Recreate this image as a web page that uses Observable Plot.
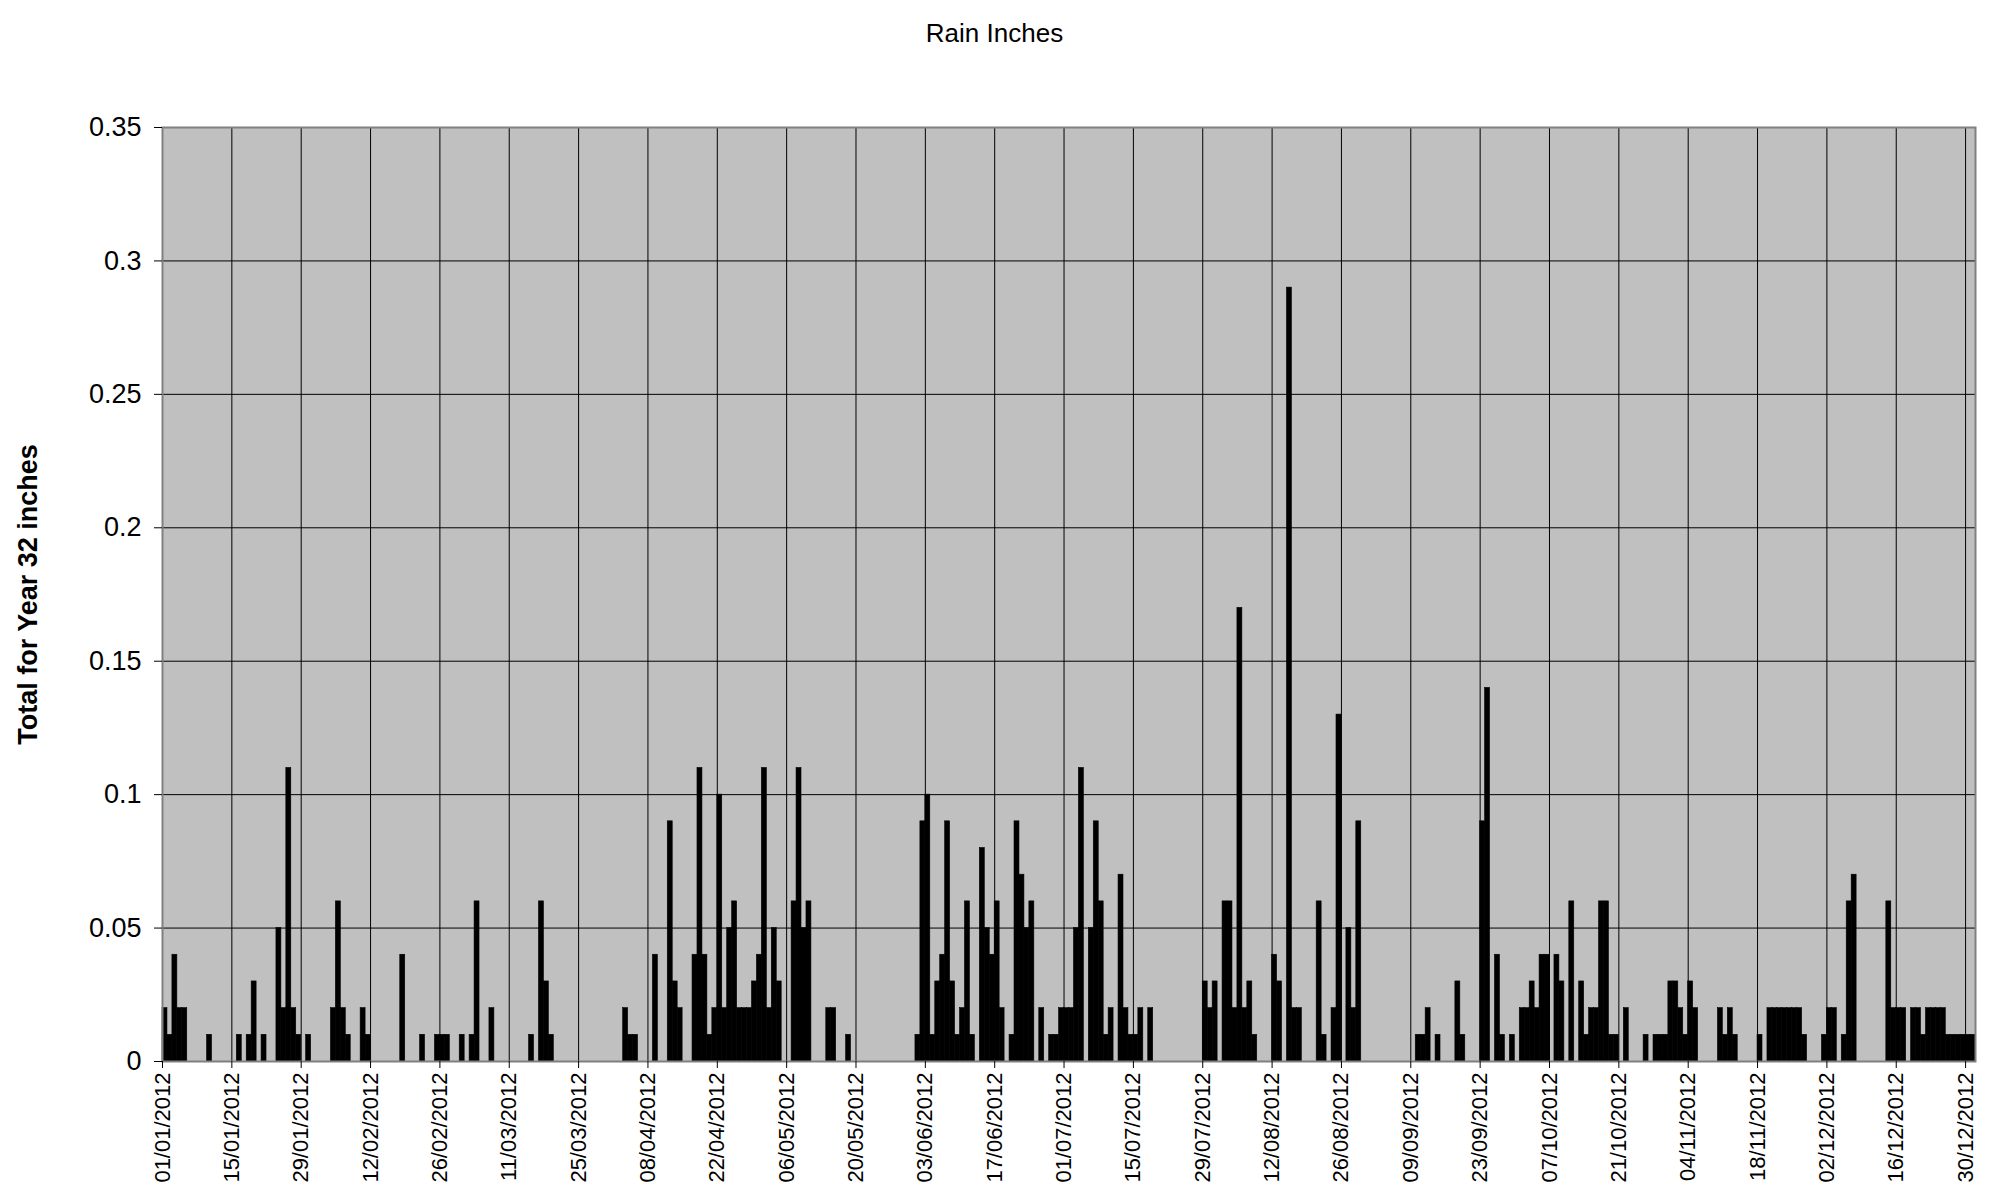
<!DOCTYPE html>
<html>
<head>
<meta charset="utf-8">
<script src="https://cdn.jsdelivr.net/npm/d3@7"></script>
<script src="https://cdn.jsdelivr.net/npm/@observablehq/plot@0.6"></script>
<style>
  body { margin: 0; background: #fff; font-family: "Liberation Sans", Arial, sans-serif; }
  #title { height: 66px; line-height: 66px; text-align: center; font-size: 26px; color: #000; }
  #chart svg { display: block; }
</style>
</head>
<body>
<div id="title"></div>
<div id="chart"></div>
<script>
const chartTitle = "Rain Inches";
const yAxisLabel = "Total for Year 32 inches";
const year = 2012;

// Daily rainfall (inches), one array per month of 2012
const jan = [0.02,0.01,0.04,0.02,0.02,0,0,0,0,0.01, 0,0,0,0,0,0.01,0,0.01,0.03,0, 0.01,0,0,0.05,0.02,0.11,0.02,0.01,0,0.01, 0];
const feb = [0,0,0,0.02,0.06,0.02,0.01,0,0,0.02, 0.01,0,0,0,0,0,0,0.04,0,0, 0,0.01,0,0,0.01,0.01,0.01,0,0];
const mar = [0.01,0,0.01,0.06,0,0,0.02,0,0,0, 0,0,0,0,0.01,0,0.06,0.03,0.01,0, 0,0,0,0,0,0,0,0,0,0, 0];
const apr = [0,0,0.02,0.01,0.01,0,0,0,0.04,0, 0,0.09,0.03,0.02,0,0,0.04,0.11,0.04,0.01, 0.02,0.10,0.02,0.05,0.06,0.02,0.02,0.02,0.03,0.04];
const may = [0.11,0.02,0.05,0.03,0,0,0.06,0.11,0.05,0.06, 0,0,0,0.02,0.02,0,0,0.01,0,0, 0,0,0,0,0,0,0,0,0,0, 0];
const jun = [0.01,0.09,0.10,0.01,0.03,0.04,0.09,0.03,0.01,0.02, 0.06,0.01,0,0.08,0.05,0.04,0.06,0.02,0,0.01, 0.09,0.07,0.05,0.06,0,0.02,0,0.01,0.01,0.02];
const jul = [0.02,0.02,0.05,0.11,0,0.05,0.09,0.06,0.01,0.02, 0,0.07,0.02,0.01,0.01,0.02,0,0.02,0,0, 0,0,0,0,0,0,0,0,0.03,0.02, 0.03];
const aug = [0,0.06,0.06,0.02,0.17,0.02,0.03,0.01,0,0, 0,0.04,0.03,0,0.29,0.02,0.02,0,0,0, 0.06,0.01,0,0.02,0.13,0,0.05,0.02,0.09,0, 0];
const sep = [0,0,0,0,0,0,0,0,0,0.01, 0.01,0.02,0,0.01,0,0,0,0.03,0.01,0, 0,0,0.09,0.14,0,0.04,0.01,0,0.01,0];
const oct = [0.02,0.02,0.03,0.02,0.04,0.04,0,0.04,0.03,0, 0.06,0,0.03,0.01,0.02,0.02,0.06,0.06,0.01,0.01, 0,0.02,0,0,0,0.01,0,0.01,0.01,0.01, 0.03];
const nov = [0.03,0.02,0.01,0.03,0.02,0,0,0,0,0.02, 0.01,0.02,0.01,0,0,0,0,0.01,0,0.02, 0.02,0.02,0.02,0.02,0.02,0.02,0.01,0,0,0];
const dec = [0.01,0.02,0.02,0,0.01,0.06,0.07,0,0,0, 0,0,0,0.06,0.02,0.02,0.02,0,0.02,0.02, 0.01,0.02,0.02,0.02,0.02,0.01,0.01,0.01,0.01,0.01, 0.01];
const months = [jan, feb, mar, apr, may, jun, jul, aug, sep, oct, nov, dec];

const yTicks = [0, 0.05, 0.1, 0.15, 0.2, 0.25, 0.3, 0.35];
const xTickLabels = ["01/01/2012","15/01/2012","29/01/2012","12/02/2012","26/02/2012","11/03/2012","25/03/2012",
  "08/04/2012","22/04/2012","06/05/2012","20/05/2012","03/06/2012","17/06/2012","01/07/2012","15/07/2012",
  "29/07/2012","12/08/2012","26/08/2012","09/09/2012","23/09/2012","07/10/2012","21/10/2012","04/11/2012",
  "18/11/2012","02/12/2012","16/12/2012","30/12/2012"];

document.getElementById("title").textContent = chartTitle;

const parse = d3.utcParse("%d/%m/%Y");
const fmt = d3.utcFormat("%d/%m/%Y");
const xTicks = xTickLabels.map(parse);

const rows = [];
months.forEach((vals, m) => vals.forEach((v, i) => {
  rows.push({date: new Date(Date.UTC(year, m, i + 1)), value: v});
}));

const font = '"Liberation Sans", Arial, sans-serif';

const chart = Plot.plot({
  width: 1989,
  height: 1138,
  marginTop: 61,
  marginBottom: 143,
  marginLeft: 162,
  marginRight: 14,
  style: {fontFamily: font, fontSize: "22px", color: "#000", background: "#fff", overflow: "visible"},
  x: {type: "utc", domain: [new Date(Date.UTC(year, 0, 1)), new Date(Date.UTC(year + 1, 0, 1))]},
  y: {domain: [0, 0.35]},
  marks: [
    Plot.frame({fill: "#c0c0c0", stroke: null}),
    Plot.gridX(xTicks, {stroke: "#000", strokeOpacity: 1, strokeWidth: 1}),
    Plot.gridY(yTicks, {stroke: "#000", strokeOpacity: 1, strokeWidth: 1}),
    Plot.rectY(rows.filter(d => d.value > 0), {x: "date", y: "value", interval: d3.utcDay, fill: "#000", stroke: "#000", strokeWidth: 0.6, inset: 0}),
    Plot.frame({stroke: "#808080", strokeWidth: 2}),
    Plot.axisX(xTicks, {tickFormat: fmt, tickRotate: -90, tickSize: 7, tickPadding: 4, fontSize: 22, label: null, stroke: "#000"}),
    Plot.axisY(yTicks, {tickFormat: d => String(d), tickSize: 8, tickPadding: 13, fontSize: 27, label: null, stroke: "#000"}),
    Plot.text([yAxisLabel], {frameAnchor: "left", dx: -134, rotate: -90, textAnchor: "middle", fontSize: 27, fontWeight: "bold", fill: "#000"})
  ]
});
document.getElementById("chart").appendChild(chart);
</script>
</body>
</html>
